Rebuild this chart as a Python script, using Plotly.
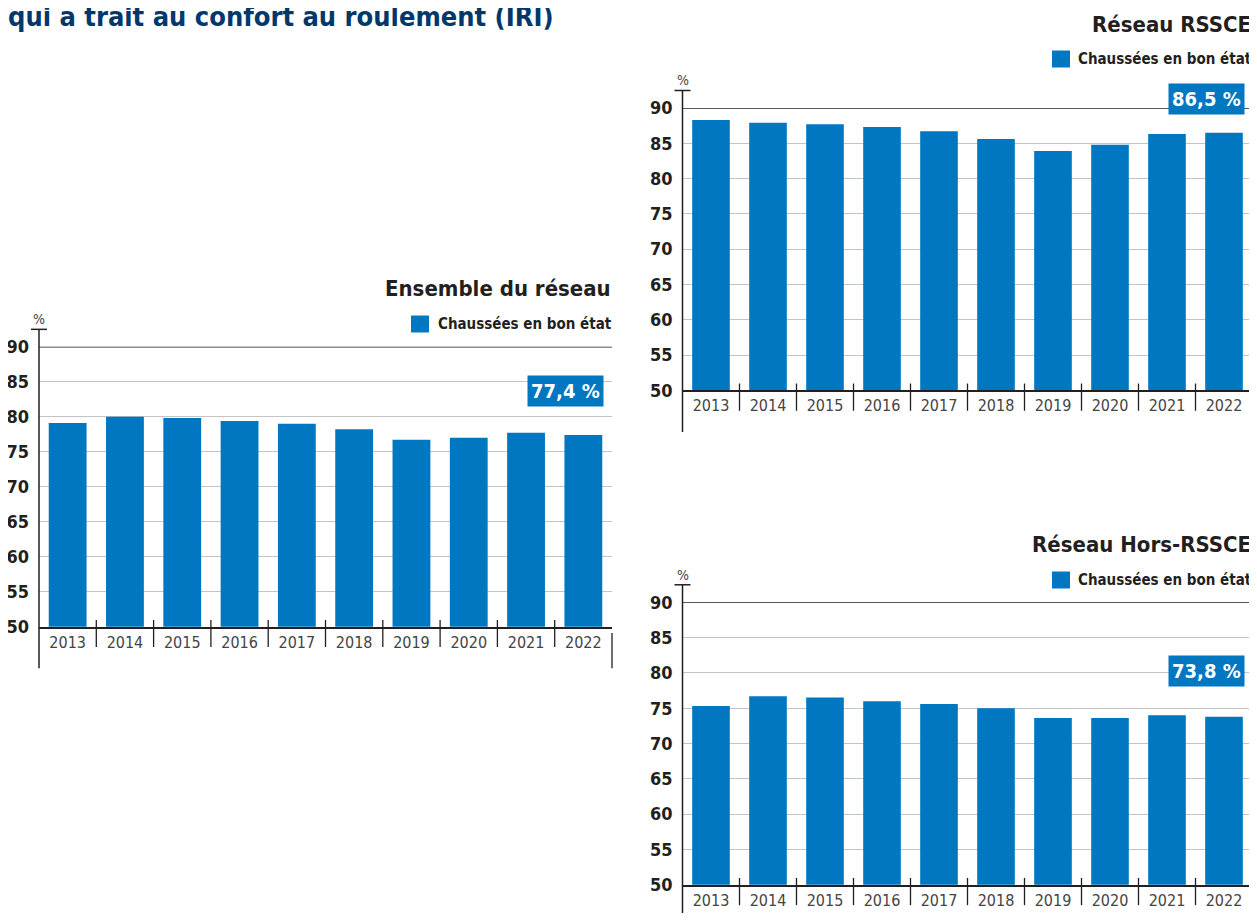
import plotly.graph_objects as go

# ---------------- data ----------------
years = ["2013", "2014", "2015", "2016", "2017", "2018", "2019", "2020", "2021", "2022"]
ensemble = [79.1, 80.0, 79.8, 79.4, 79.0, 78.2, 76.7, 77.0, 77.7, 77.4]
rssce = [88.3, 87.9, 87.7, 87.3, 86.7, 85.6, 83.9, 84.8, 86.3, 86.5]
hors_rssce = [75.3, 76.7, 76.5, 76.0, 75.6, 75.0, 73.6, 73.6, 74.0, 73.8]
y_ticks = [50, 55, 60, 65, 70, 75, 80, 85, 90]
panel_titles = ["Ensemble du réseau", "Réseau RSSCE", "Réseau Hors-RSSCE"]
series_name = "Chaussées en bon état"
main_title = "qui a trait au confort au roulement (IRI)"
unit = "%"

# ---------------- style ----------------
W, H = 1257, 921
BLUE = "#0077c0"
DARK = "#231f20"
GRID = "#c4c4c4"
NAVY = "#00386b"
FONT = "Liberation Sans Narrow, DejaVu Sans Condensed, Arial Narrow, sans-serif"


def px(x):
    return x / W


def py(y):
    return 1 - y / H


# pixel boxes: left, right, top (90), bottom (50), title y, legend y, legend square x, value box y (domain)
panels = [
    dict(vals=ensemble, l=39, r=612, t=346.7, b=626.7, ty=289, ly=324, sq=411, vy=0.842),
    dict(vals=rssce, l=682.5, r=1252.5, t=108, b=390.3, ty=24, ly=59, sq=1052, vy=1.032),
    dict(vals=hors_rssce, l=682.5, r=1252.5, t=602.3, b=884.7, ty=544, ly=580, sq=1052, vy=0.757),
]

fig = go.Figure()
shapes = []
annotations = []
layout = {}

for i, p in enumerate(panels):
    s = "" if i == 0 else str(i + 1)
    fig.add_trace(go.Bar(
        x=years, y=p["vals"], name=series_name, marker=dict(color=BLUE, line=dict(width=0)),
        xaxis="x" + s, yaxis="y" + s, showlegend=False,
    ))
    layout["xaxis" + s] = dict(
        domain=[px(p["l"]), px(p["r"])], anchor="y" + s, type="category",
        showline=True, linecolor=DARK, linewidth=1.5, ticks="", showgrid=False,
        tickfont=dict(family=FONT, size=16, color="#444444"), ticklabelstandoff=0,
        fixedrange=True,
    )
    layout["yaxis" + s] = dict(
        domain=[py(p["b"]), py(p["t"])], anchor="x" + s, range=[y_ticks[0], y_ticks[-1]],
        tickvals=y_ticks, showgrid=True, gridcolor=GRID, gridwidth=1.3, zeroline=False,
        showline=False, ticks="", ticklabelstandoff=9,
        tickfont=dict(family=FONT, size=18, color=DARK, weight="bold"), fixedrange=True,
    )
    xd, yd = "x" + s + " domain", "y" + s + " domain"
    # dark top line at 90
    shapes.append(dict(type="line", xref=xd, yref="y" + s, x0=0, x1=1, y0=y_ticks[-1], y1=y_ticks[-1],
                       line=dict(color=DARK, width=1.4), layer="above"))
    # y-axis line with cap
    shapes.append(dict(type="line", xref=xd, yref=yd, x0=0, x1=0, y0=-0.148, y1=1.062,
                       line=dict(color=DARK, width=1.5)))
    shapes.append(dict(type="line", xref=xd, yref=yd, x0=-0.014, x1=0.014, y0=1.062, y1=1.062,
                       line=dict(color=DARK, width=1.5)))
    # category separators
    for k in range(len(years) - 1):
        shapes.append(dict(type="line", xref="x" + s, yref=yd, x0=k + 0.5, x1=k + 0.5, y0=-0.0725, y1=0.024,
                           line=dict(color=DARK, width=1.3), layer="above"))
    # right end line
    shapes.append(dict(type="line", xref=xd, yref=yd, x0=1, x1=1, y0=-0.0225, y1=-0.148,
                       line=dict(color=DARK, width=1.3)))
    # legend square
    shapes.append(dict(type="rect", xref="paper", yref="paper", x0=px(p["sq"]), x1=px(p["sq"] + 18),
                       y0=py(p["ly"] - 8.5), y1=py(p["ly"] + 8.5), fillcolor=BLUE, line=dict(width=0)))
    # unit label
    annotations.append(dict(text=unit, xref=xd, yref=yd, x=0, y=1.062, xanchor="center", yanchor="bottom",
                            showarrow=False, font=dict(family=FONT, size=14, color="#444")))
    # panel title
    annotations.append(dict(text=panel_titles[i], xref="paper", yref="paper", x=px(p["r"] + 0.5), y=py(p["ty"]),
                            xanchor="right", yanchor="middle", showarrow=False,
                            font=dict(family=FONT, size=22, color=DARK, weight="bold")))
    # legend text
    annotations.append(dict(text=series_name, xref="paper", yref="paper", x=px(p["r"] + 1.5), y=py(p["ly"]),
                            xanchor="right", yanchor="middle", showarrow=False,
                            font=dict(family=FONT, size=15, color=DARK, weight="bold")))
    # last value box
    last = p["vals"][-1]
    annotations.append(dict(text=f"{last:.1f} %".replace(".", ","), xref=xd, yref=yd, x=0.986, y=p["vy"],
                            xanchor="right", yanchor="middle", showarrow=False, bgcolor=BLUE, borderpad=3,
                            font=dict(family=FONT, size=20, color="white", weight="bold")))

annotations.append(dict(text=main_title, xref="paper", yref="paper", x=px(6), y=py(16.5), xanchor="left",
                        yanchor="middle", showarrow=False,
                        font=dict(family=FONT, size=27, color=NAVY, weight="bold")))

fig.update_layout(
    autosize=True, margin=dict(l=0, r=0, t=0, b=0, autoexpand=False),
    paper_bgcolor="white", plot_bgcolor="white", bargap=0.34,
    shapes=shapes, annotations=annotations, **layout,
)

# the div is sized to the whole window; the negative margin cancels the page's default body margin
fig.write_html("out.html", config={"displayModeBar": False},
               default_width=f"{W}px; margin:-8px", default_height=f"{H}px")
